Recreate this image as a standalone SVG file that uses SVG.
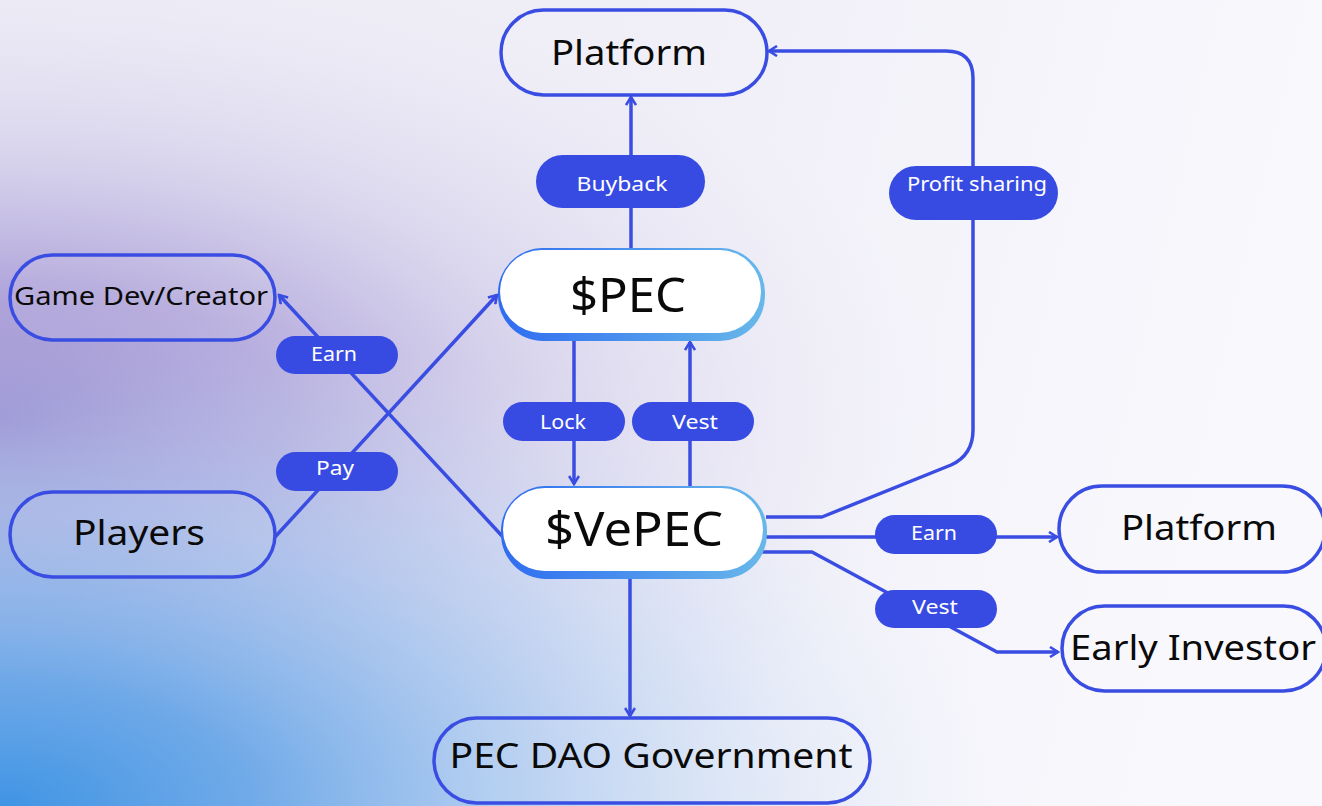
<svg xmlns="http://www.w3.org/2000/svg" width="1322" height="806" viewBox="0 0 1322 806">
  <defs>
    <linearGradient id="bgBase" x1="0" y1="0" x2="1322" y2="300" gradientUnits="userSpaceOnUse">
      <stop offset="0" stop-color="#eeedf6"/>
      <stop offset="0.45" stop-color="#efeef7"/>
      <stop offset="1" stop-color="#f9f9fd"/>
    </linearGradient>
    <radialGradient id="bgPurple" cx="0" cy="420" r="950" gradientUnits="userSpaceOnUse" gradientTransform="translate(0 420) scale(1 0.5) translate(0 -420)">
      <stop offset="0" stop-color="#9180ca" stop-opacity="1"/>
      <stop offset="0.3" stop-color="#aa9ed8" stop-opacity="0.85"/>
      <stop offset="0.6" stop-color="#c9c3e6" stop-opacity="0.5"/>
      <stop offset="1" stop-color="#e6e4f3" stop-opacity="0"/>
    </radialGradient>
    <radialGradient id="bgBlue" cx="0" cy="806" r="1000" gradientUnits="userSpaceOnUse" gradientTransform="translate(0 806) scale(1 0.5) translate(0 -806)">
      <stop offset="0" stop-color="#3f94e4" stop-opacity="1"/>
      <stop offset="0.25" stop-color="#62a3e7" stop-opacity="0.9"/>
      <stop offset="0.6" stop-color="#a6c6ef" stop-opacity="0.6"/>
      <stop offset="1" stop-color="#dce7f7" stop-opacity="0"/>
    </radialGradient>
    <linearGradient id="tokenEdge" x1="0" y1="0" x2="1" y2="0">
      <stop offset="0" stop-color="#2f6cf0"/>
      <stop offset="1" stop-color="#68b8ea"/>
    </linearGradient>
    <marker id="arrow" viewBox="0 0 12 12" refX="10" refY="6" markerWidth="12" markerHeight="12" markerUnits="userSpaceOnUse" orient="auto">
      <path d="M2,1 L10,6 L2,11" fill="none" stroke="#3a4de2" stroke-width="2.6"/>
    </marker>
    <style>
      .node { fill: #ffffff; fill-opacity: 0.08; stroke: #3a4de2; stroke-width: 3.5; }
      .ntext { font-family: "Noto Sans", "Open Sans", sans-serif; fill: #0a0a0a; text-anchor: middle; dominant-baseline: central; }
      .pill { fill: #374be3; }
      .ptext { font-family: "Noto Sans", "Open Sans", sans-serif; font-size: 19px; fill: #ffffff; text-anchor: middle; dominant-baseline: central; }
      .edge { fill: none; stroke: #3a4de2; stroke-width: 3.5; stroke-linejoin: round; }
    </style>
  </defs>

  <!-- background -->
  <rect x="0" y="0" width="1322" height="806" fill="url(#bgBase)"/>
  <rect x="0" y="0" width="1322" height="806" fill="url(#bgPurple)"/>
  <rect x="0" y="0" width="1322" height="806" fill="url(#bgBlue)"/>

  <!-- connectors -->
  <g id="connectors">
    <path class="edge" d="M631,248 V97" marker-end="url(#arrow)"/>
    <path class="edge" d="M766,517 H822 L951,465 Q973,455 973,430 V78 Q973,51 946,51 H769" marker-end="url(#arrow)"/>
    <path class="edge" d="M574,340 V484" marker-end="url(#arrow)"/>
    <path class="edge" d="M690,486 V342" marker-end="url(#arrow)"/>
    <path class="edge" d="M503,537 L279,295" marker-end="url(#arrow)"/>
    <path class="edge" d="M275,537 L497,295" marker-end="url(#arrow)"/>
    <path class="edge" d="M766,537 H1057" marker-end="url(#arrow)"/>
    <path class="edge" d="M762,552 H812 L997,652 H1058" marker-end="url(#arrow)"/>
    <path class="edge" d="M630,578 V716" marker-end="url(#arrow)"/>

    <g id="edge-labels">
      <rect class="pill" x="536" y="155" width="169" height="53" rx="26.5"/>
      <text class="ptext" x="622" y="184" textLength="91" lengthAdjust="spacingAndGlyphs">Buyback</text>
      <rect class="pill" x="889" y="166" width="169" height="54" rx="27"/>
      <text class="ptext" x="977" y="184" textLength="140" lengthAdjust="spacingAndGlyphs">Profit sharing</text>
      <rect class="pill" x="276" y="336" width="122" height="38" rx="19"/>
      <text class="ptext" x="334" y="354" textLength="46" lengthAdjust="spacingAndGlyphs">Earn</text>
      <rect class="pill" x="276" y="452" width="122" height="39" rx="19.5"/>
      <text class="ptext" x="335" y="468" textLength="38" lengthAdjust="spacingAndGlyphs">Pay</text>
      <rect class="pill" x="503" y="402" width="122" height="39" rx="19.5"/>
      <text class="ptext" x="563" y="422" textLength="46" lengthAdjust="spacingAndGlyphs">Lock</text>
      <rect class="pill" x="632" y="402" width="122" height="39" rx="19.5"/>
      <text class="ptext" x="695" y="422" textLength="46" lengthAdjust="spacingAndGlyphs">Vest</text>
      <rect class="pill" x="875" y="515" width="122" height="39" rx="19.5"/>
      <text class="ptext" x="934" y="533" textLength="46" lengthAdjust="spacingAndGlyphs">Earn</text>
      <rect class="pill" x="875" y="590" width="122" height="38" rx="19"/>
      <text class="ptext" x="935" y="607" textLength="46" lengthAdjust="spacingAndGlyphs">Vest</text>
    </g>
  </g>

  <!-- nodes -->
  <g id="platform-top">
    <rect class="node" x="501" y="10" width="266" height="85" rx="42.5"/>
    <text class="ntext" x="629" y="51" font-size="35" textLength="156" lengthAdjust="spacingAndGlyphs">Platform</text>
  </g>

  <g id="pec">
    <rect x="498" y="248" width="267" height="93" rx="45" fill="url(#tokenEdge)"/>
    <rect x="500" y="250" width="261" height="83" rx="41.5" fill="#ffffff"/>
    <text class="ntext" x="628" y="294" font-size="47" textLength="116" lengthAdjust="spacingAndGlyphs">$PEC</text>
  </g>

  <g id="vepec">
    <rect x="501" y="486" width="266" height="93" rx="45" fill="url(#tokenEdge)"/>
    <rect x="503" y="488" width="260" height="83" rx="41.5" fill="#ffffff"/>
    <text class="ntext" x="634" y="528" font-size="47" textLength="178" lengthAdjust="spacingAndGlyphs">$VePEC</text>
  </g>

  <g id="game-dev">
    <rect class="node" x="10" y="255" width="265" height="85" rx="42.5"/>
    <text class="ntext" x="141" y="295" font-size="25" textLength="254" lengthAdjust="spacingAndGlyphs">Game Dev/Creator</text>
  </g>

  <g id="players">
    <rect class="node" x="10" y="492" width="265" height="85" rx="42.5"/>
    <text class="ntext" x="139" y="531" font-size="35" textLength="132" lengthAdjust="spacingAndGlyphs">Players</text>
  </g>

  <g id="platform-right">
    <rect class="node" x="1059" y="486" width="266" height="86" rx="43"/>
    <text class="ntext" x="1199" y="526" font-size="35" textLength="156" lengthAdjust="spacingAndGlyphs">Platform</text>
  </g>

  <g id="early-investor">
    <rect class="node" x="1062" y="606" width="264" height="85" rx="42.5"/>
    <text class="ntext" x="1193" y="646" font-size="35" textLength="246" lengthAdjust="spacingAndGlyphs">Early Investor</text>
  </g>

  <g id="dao">
    <rect class="node" x="434" y="718" width="436" height="85" rx="42.5"/>
    <text class="ntext" x="651" y="754" font-size="35" textLength="403" lengthAdjust="spacingAndGlyphs">PEC DAO Government</text>
  </g>
</svg>
